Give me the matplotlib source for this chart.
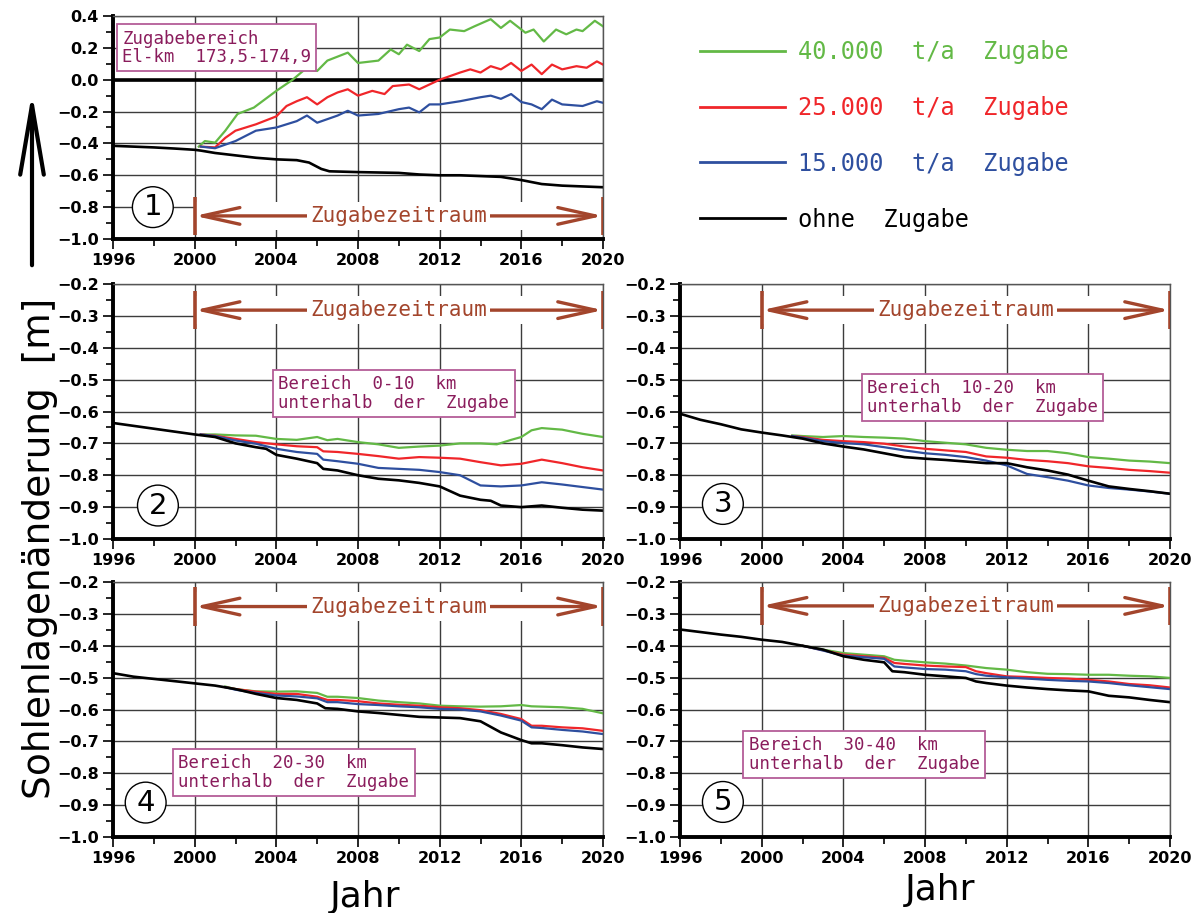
import matplotlib
matplotlib.use("Agg")
import matplotlib.pyplot as plt
from matplotlib.patches import Rectangle, FancyArrowPatch
from matplotlib.ticker import MultipleLocator, FuncFormatter

# colours
GREEN = "#63b946"
RED = "#f0262a"
BLUE = "#2e4f9f"
BLACK = "#000000"
BROWN = "#a3452c"
PURPLE = "#8a1c5c"
BOXEDGE = "#b45d97"

series_labels = ["40.000  t/a  Zugabe", "25.000  t/a  Zugabe",
                 "15.000  t/a  Zugabe", "ohne  Zugabe"]

# ---- panel 1: Zugabebereich ----
p1_black_x = [1996, 1997, 1998, 1999, 2000, 2000.3, 2001, 2002, 2003, 2004, 2005,
              2005.6, 2006.2, 2006.6, 2008, 2010, 2011, 2012, 2013, 2014, 2015,
              2016, 2017, 2018, 2019, 2020]
p1_black = [-0.415, -0.42, -0.425, -0.432, -0.44, -0.445, -0.46, -0.475, -0.49, -0.50,
            -0.505, -0.52, -0.56, -0.575, -0.58, -0.585, -0.595, -0.60, -0.60, -0.605,
            -0.61, -0.63, -0.655, -0.665, -0.67, -0.675]
p1_green_x = [2000.2, 2000.5, 2001, 2001.5, 2002.1, 2002.9, 2004, 2004.8, 2005.4, 2006,
              2006.5, 2007.5, 2008, 2009, 2009.6, 2010, 2010.4, 2011, 2011.5, 2012,
              2012.5, 2013.2, 2013.7, 2014.5, 2015, 2015.45, 2016.2, 2016.6, 2017.1,
              2017.7, 2018.2, 2018.7, 2019, 2019.6, 2020]
p1_green = [-0.42, -0.385, -0.395, -0.32, -0.215, -0.175, -0.07, 0.0, 0.065, 0.055,
            0.12, 0.17, 0.105, 0.12, 0.19, 0.16, 0.22, 0.18, 0.255, 0.265,
            0.315, 0.305, 0.335, 0.38, 0.325, 0.37, 0.295, 0.315, 0.24,
            0.315, 0.285, 0.315, 0.305, 0.37, 0.335]
p1_red_x = [2000.3, 2001, 2001.5, 2002, 2003, 2004, 2004.5, 2005, 2005.5, 2006, 2006.5,
            2007, 2007.5, 2008, 2008.7, 2009.3, 2009.7, 2010.5, 2011, 2011.5, 2012,
            2013, 2013.5, 2014, 2014.5, 2015, 2015.5, 2016, 2016.5, 2017, 2017.5,
            2018, 2018.7, 2019.2, 2019.7, 2020]
p1_red = [-0.42, -0.425, -0.365, -0.32, -0.28, -0.23, -0.165, -0.135, -0.11, -0.155, -0.11,
          -0.08, -0.06, -0.10, -0.07, -0.09, -0.04, -0.03, -0.06, -0.03, 0.0,
          0.045, 0.065, 0.045, 0.085, 0.065, 0.105, 0.055, 0.095, 0.035, 0.095,
          0.065, 0.085, 0.075, 0.115, 0.095]
p1_blue_x = [2000.3, 2001, 2002, 2003, 2004, 2005, 2005.5, 2006, 2007, 2007.5, 2008,
             2009, 2010, 2010.5, 2011, 2011.5, 2012, 2013, 2014, 2014.5, 2015, 2015.5,
             2016, 2016.5, 2017, 2017.5, 2018, 2019, 2019.7, 2020]
p1_blue = [-0.42, -0.43, -0.385, -0.32, -0.30, -0.26, -0.225, -0.27, -0.225, -0.195, -0.225,
           -0.215, -0.185, -0.175, -0.205, -0.155, -0.155, -0.135, -0.11, -0.10, -0.12, -0.09,
           -0.14, -0.155, -0.185, -0.125, -0.155, -0.165, -0.135, -0.145]

# ---- panel 2: 0-10 km ----
p2_black_x = [1996, 1997, 1998, 1999, 2000, 2001, 2002, 2003, 2003.5, 2004, 2005, 2006,
              2006.3, 2007, 2008, 2009, 2010, 2011, 2012, 2013, 2014, 2014.5, 2015,
              2016, 2017, 2018, 2019, 2020]
p2_black = [-0.636, -0.645, -0.654, -0.663, -0.672, -0.68, -0.70, -0.712, -0.717, -0.736,
            -0.748, -0.762, -0.78, -0.785, -0.80, -0.811, -0.816, -0.824, -0.835, -0.864,
            -0.877, -0.88, -0.895, -0.90, -0.895, -0.902, -0.908, -0.911]
p2_green_x = [2000.3, 2001, 2002, 2003, 2004, 2005, 2006, 2006.5, 2007, 2008, 2009, 2010,
              2011, 2012, 2013, 2014, 2014.8, 2015.5, 2016, 2016.5, 2017, 2018, 2019, 2020]
p2_green = [-0.672, -0.672, -0.675, -0.676, -0.686, -0.689, -0.68, -0.69, -0.686, -0.696,
            -0.703, -0.714, -0.71, -0.707, -0.70, -0.70, -0.703, -0.689, -0.68, -0.659,
            -0.652, -0.657, -0.67, -0.68]
p2_red_x = [2000.3, 2001, 2002, 2003, 2004, 2005, 2006, 2006.3, 2007, 2008, 2009, 2010,
            2011, 2012, 2013, 2014, 2015, 2016, 2017, 2018, 2019, 2020]
p2_red = [-0.672, -0.676, -0.686, -0.696, -0.703, -0.709, -0.712, -0.725, -0.727, -0.733,
          -0.74, -0.748, -0.743, -0.745, -0.748, -0.759, -0.769, -0.764, -0.751, -0.762,
          -0.775, -0.785]
p2_blue_x = [2000.3, 2001, 2002, 2003, 2004, 2005, 2006, 2006.3, 2007, 2008, 2009, 2010,
             2011, 2012, 2013, 2013.5, 2014, 2015, 2016, 2017, 2018, 2019, 2020]
p2_blue = [-0.672, -0.677, -0.691, -0.701, -0.717, -0.727, -0.733, -0.751, -0.756, -0.764,
           -0.777, -0.78, -0.783, -0.79, -0.80, -0.816, -0.832, -0.835, -0.832, -0.822,
           -0.829, -0.837, -0.845]

# ---- panel 3: 10-20 km ----
p3_black_x = [1996, 1997, 1998, 1999, 2000, 2001, 2002, 2003, 2004, 2005, 2006, 2007,
              2008, 2009, 2010, 2011, 2012, 2013, 2014, 2015, 2016, 2017, 2018, 2019, 2020]
p3_black = [-0.607, -0.626, -0.64, -0.656, -0.666, -0.675, -0.685, -0.70, -0.71, -0.719,
            -0.731, -0.743, -0.748, -0.752, -0.757, -0.762, -0.762, -0.775, -0.785, -0.798,
            -0.817, -0.835, -0.843, -0.85, -0.858]
p3_col_x = [2001.5, 2002, 2003, 2004, 2005, 2006, 2007, 2008, 2009, 2010, 2011, 2012,
            2013, 2014, 2015, 2016, 2017, 2018, 2019, 2020]
p3_green = [-0.675, -0.677, -0.68, -0.677, -0.68, -0.682, -0.685, -0.693, -0.698, -0.703,
            -0.714, -0.72, -0.724, -0.724, -0.731, -0.743, -0.748, -0.754, -0.757, -0.762]
p3_red = [-0.677, -0.68, -0.689, -0.693, -0.696, -0.701, -0.71, -0.717, -0.722, -0.727,
          -0.741, -0.745, -0.752, -0.756, -0.762, -0.772, -0.777, -0.783, -0.787, -0.792]
p3_blue = [-0.677, -0.682, -0.693, -0.699, -0.703, -0.712, -0.722, -0.731, -0.736, -0.743,
           -0.754, -0.769, -0.796, -0.806, -0.817, -0.832, -0.84, -0.845, -0.851, -0.858]

# ---- panel 4: 20-30 km ----
p4_black_x = [1996, 1997, 1998, 1999, 2000, 2001, 2002, 2003, 2004, 2005, 2006, 2006.4,
              2007, 2008, 2009, 2010, 2011, 2012, 2013, 2014, 2015, 2016, 2016.5, 2017,
              2018, 2019, 2020]
p4_black = [-0.486, -0.497, -0.504, -0.511, -0.518, -0.525, -0.536, -0.551, -0.564, -0.57,
            -0.581, -0.596, -0.598, -0.606, -0.611, -0.617, -0.623, -0.625, -0.627, -0.637,
            -0.672, -0.696, -0.706, -0.706, -0.712, -0.719, -0.724]
p4_col_x = [2001.5, 2002, 2003, 2004, 2005, 2006, 2006.5, 2007, 2008, 2009, 2010, 2011,
            2012, 2013, 2014, 2015, 2016, 2016.5, 2017, 2018, 2019, 2020]
p4_green = [-0.528, -0.536, -0.543, -0.544, -0.543, -0.548, -0.56, -0.56, -0.564, -0.572,
            -0.577, -0.581, -0.588, -0.59, -0.591, -0.59, -0.586, -0.59, -0.591, -0.593,
            -0.598, -0.612]
p4_red = [-0.53, -0.536, -0.544, -0.551, -0.551, -0.56, -0.57, -0.57, -0.574, -0.581,
          -0.585, -0.588, -0.593, -0.596, -0.602, -0.614, -0.63, -0.651, -0.651, -0.656,
          -0.659, -0.667]
p4_blue = [-0.53, -0.538, -0.548, -0.556, -0.559, -0.565, -0.577, -0.577, -0.583, -0.586,
           -0.59, -0.593, -0.598, -0.60, -0.606, -0.619, -0.635, -0.656, -0.658, -0.664,
           -0.669, -0.677]

# ---- panel 5: 30-40 km ----
p5_black_x = [1996, 1997, 1998, 1999, 2000, 2001, 2002, 2003, 2004, 2005, 2006, 2006.4,
              2007, 2008, 2009, 2010, 2010.5, 2011, 2012, 2013, 2014, 2015, 2016, 2017,
              2018, 2019, 2020]
p5_black = [-0.349, -0.357, -0.365, -0.372, -0.381, -0.388, -0.40, -0.412, -0.433, -0.444,
            -0.452, -0.48, -0.483, -0.491, -0.496, -0.501, -0.512, -0.517, -0.525, -0.531,
            -0.536, -0.54, -0.543, -0.557, -0.562, -0.57, -0.577]
p5_col_x = [2002, 2003, 2004, 2005, 2006, 2006.5, 2007, 2008, 2009, 2010, 2010.5, 2011,
            2012, 2013, 2014, 2015, 2016, 2017, 2018, 2019, 2020]
p5_green = [-0.40, -0.412, -0.423, -0.428, -0.433, -0.444, -0.447, -0.452, -0.456, -0.462,
            -0.466, -0.47, -0.475, -0.483, -0.488, -0.489, -0.491, -0.491, -0.494, -0.496,
            -0.501]
p5_red = [-0.40, -0.414, -0.428, -0.433, -0.438, -0.454, -0.457, -0.462, -0.465, -0.467,
          -0.48, -0.486, -0.496, -0.498, -0.501, -0.503, -0.507, -0.512, -0.52, -0.524,
          -0.531]
p5_blue = [-0.40, -0.415, -0.431, -0.436, -0.441, -0.465, -0.468, -0.473, -0.475, -0.48,
           -0.489, -0.494, -0.499, -0.503, -0.507, -0.51, -0.512, -0.517, -0.524, -0.53,
           -0.536]

region_texts = ["Zugabebereich\nEl-km  173,5-174,9",
                "Bereich  0-10  km\nunterhalb  der  Zugabe",
                "Bereich  10-20  km\nunterhalb  der  Zugabe",
                "Bereich  20-30  km\nunterhalb  der  Zugabe",
                "Bereich  30-40  km\nunterhalb  der  Zugabe"]

TICKFONT = dict(family="DejaVu Sans", weight="bold", size=11.5)
MONO = "DejaVu Sans Mono"
LW = 1.6

W, H = 1192, 913
fig = plt.figure(figsize=(W / 100, H / 100), dpi=100)


def make_axes(x0, x1, ytop, ybot):
    return fig.add_axes([x0 / W, 1 - ybot / H, (x1 - x0) / W, (ybot - ytop) / H])


def style(ax, ylo, yhi, major, minor):
    ax.set_xlim(1996, 2020)
    ax.set_ylim(ylo, yhi)
    ax.xaxis.set_major_locator(MultipleLocator(4))
    ax.xaxis.set_minor_locator(MultipleLocator(2))
    ax.yaxis.set_major_locator(MultipleLocator(major))
    ax.yaxis.set_minor_locator(MultipleLocator(minor))
    ax.yaxis.set_major_formatter(FuncFormatter(
        lambda v, p: f"{v:.1f}".replace("-", "\u2212") if abs(v) > 1e-9 else "0.0"))
    ax.xaxis.set_major_formatter(FuncFormatter(lambda v, p: f"{int(round(v))}"))
    ax.tick_params(which="major", direction="out", length=7, width=1.2, pad=3)
    ax.tick_params(which="minor", direction="out", length=5, width=1.2)
    for lab in ax.get_xticklabels() + ax.get_yticklabels():
        lab.set_fontproperties(TICKFONT)
    ax.set_axisbelow(True)
    ax.grid(True, which="major", color="#3c3c3c", lw=1.0)
    ax.spines["left"].set_linewidth(2.8)
    ax.spines["bottom"].set_linewidth(2.8)
    for s in ("top", "right"):
        ax.spines[s].set_linewidth(1.0)
        ax.spines[s].set_color("#555555")


def zeitraum(ax, y, dy, box):
    # white band behind the arrow, end markers, double arrow and label
    ax.add_patch(Rectangle((2000, y - box), 20, 2 * box, fc="white", ec="none", zorder=1.5))
    ax.vlines([2000, 2020], y - dy, y + dy, color=BROWN, lw=2.6, zorder=3)
    ax.annotate("", xy=(2020, y), xytext=(2000, y),
                arrowprops=dict(arrowstyle="<->,head_length=2.7,head_width=0.6",
                                mutation_scale=10, lw=2.4, color=BROWN,
                                shrinkA=0, shrinkB=0), zorder=3)
    ax.text(2010, y, "Zugabezeitraum", color=BROWN, fontsize=15, family=MONO,
            ha="center", va="center", zorder=4,
            bbox=dict(boxstyle="square,pad=0.15", fc="white", ec="none"))


def region_box(ax, x, y, txt):
    ax.text(x, y, txt, color=PURPLE, fontsize=12.5, family=MONO, ha="left", va="center",
            linespacing=1.05, zorder=6,
            bbox=dict(boxstyle="square,pad=0.3", fc="white", ec=BOXEDGE, lw=1.3))


def number(ax, x, y, n):
    ax.text(x, y, n, fontsize=21, ha="center", va="center", zorder=6,
            bbox=dict(boxstyle="circle,pad=0.22", fc="white", ec="black", lw=1.0))


def draw(ax, bx, by, gx, g, rx, r, ux, u):
    lg, = ax.plot(gx, g, color=GREEN, lw=LW, zorder=2.2)
    lr, = ax.plot(rx, r, color=RED, lw=LW, zorder=2.3)
    lu, = ax.plot(ux, u, color=BLUE, lw=LW, zorder=2.4)
    lb, = ax.plot(bx, by, color=BLACK, lw=LW + 0.3, zorder=2.5)
    return [lg, lr, lu, lb]


# panel 1
ax1 = make_axes(113, 603, 16, 239)
handles = draw(ax1, p1_black_x, p1_black, p1_green_x, p1_green,
               p1_red_x, p1_red, p1_blue_x, p1_blue)
ax1.axhline(0.0, color="black", lw=2.6, zorder=1.8)
style(ax1, -1.0, 0.4, 0.2, 0.1)
zeitraum(ax1, -0.855, 0.12, 0.09)
region_box(ax1, 1996.45, 0.2, region_texts[0])
number(ax1, 1997.95, -0.8, "1")

# panel 2
ax2 = make_axes(113, 603, 284, 539)
draw(ax2, p2_black_x, p2_black, p2_green_x, p2_green, p2_red_x, p2_red, p2_blue_x, p2_blue)
style(ax2, -1.0, -0.2, 0.1, 0.05)
zeitraum(ax2, -0.282, 0.06, 0.045)
region_box(ax2, 2004.1, -0.543, region_texts[1])
number(ax2, 1998.2, -0.895, "2")

# panel 3
ax3 = make_axes(680, 1170, 284, 539)
draw(ax3, p3_black_x, p3_black, p3_col_x, p3_green, p3_col_x, p3_red, p3_col_x, p3_blue)
style(ax3, -1.0, -0.2, 0.1, 0.05)
zeitraum(ax3, -0.282, 0.06, 0.045)
region_box(ax3, 2005.15, -0.555, region_texts[2])
number(ax3, 1998.1, -0.89, "3")

# panel 4
ax4 = make_axes(113, 603, 582, 837)
draw(ax4, p4_black_x, p4_black, p4_col_x, p4_green, p4_col_x, p4_red, p4_col_x, p4_blue)
style(ax4, -1.0, -0.2, 0.1, 0.05)
zeitraum(ax4, -0.277, 0.06, 0.045)
region_box(ax4, 1999.2, -0.797, region_texts[3])
number(ax4, 1997.6, -0.892, "4")

# panel 5
ax5 = make_axes(680, 1170, 582, 837)
draw(ax5, p5_black_x, p5_black, p5_col_x, p5_green, p5_col_x, p5_red, p5_col_x, p5_blue)
style(ax5, -1.0, -0.2, 0.1, 0.05)
zeitraum(ax5, -0.275, 0.06, 0.045)
region_box(ax5, 1999.36, -0.741, region_texts[4])
number(ax5, 1998.1, -0.89, "5")

# legend top right
leg = fig.legend(handles, series_labels, loc="upper left",
                 bbox_to_anchor=(700 / W, 1 - 40 / H), frameon=False,
                 prop=dict(family=MONO, size=17),
                 handlelength=3.6, handletextpad=0.55, labelspacing=1.35,
                 labelcolor="linecolor", borderpad=0, borderaxespad=0)
for line in leg.get_lines():
    line.set_linewidth(2.0)

# axis titles
fig.text(40 / W, 1 - 548 / H, "Sohlenlagenänderung  [m]", rotation=90,
         fontsize=27, ha="center", va="center")
fig.text(365 / W, 1 - 897 / H, "Jahr", fontsize=26, ha="center", va="center")
fig.text(940 / W, 1 - 890 / H, "Jahr", fontsize=26, ha="center", va="center")
fig.add_artist(FancyArrowPatch(
    (32 / W, 1 - 268 / H), (32 / W, 1 - 90 / H), transform=fig.transFigure,
    arrowstyle="->,head_length=5.0,head_width=0.85", mutation_scale=10,
    lw=3.0, color="black"))

fig.savefig("out.png", dpi=100)
